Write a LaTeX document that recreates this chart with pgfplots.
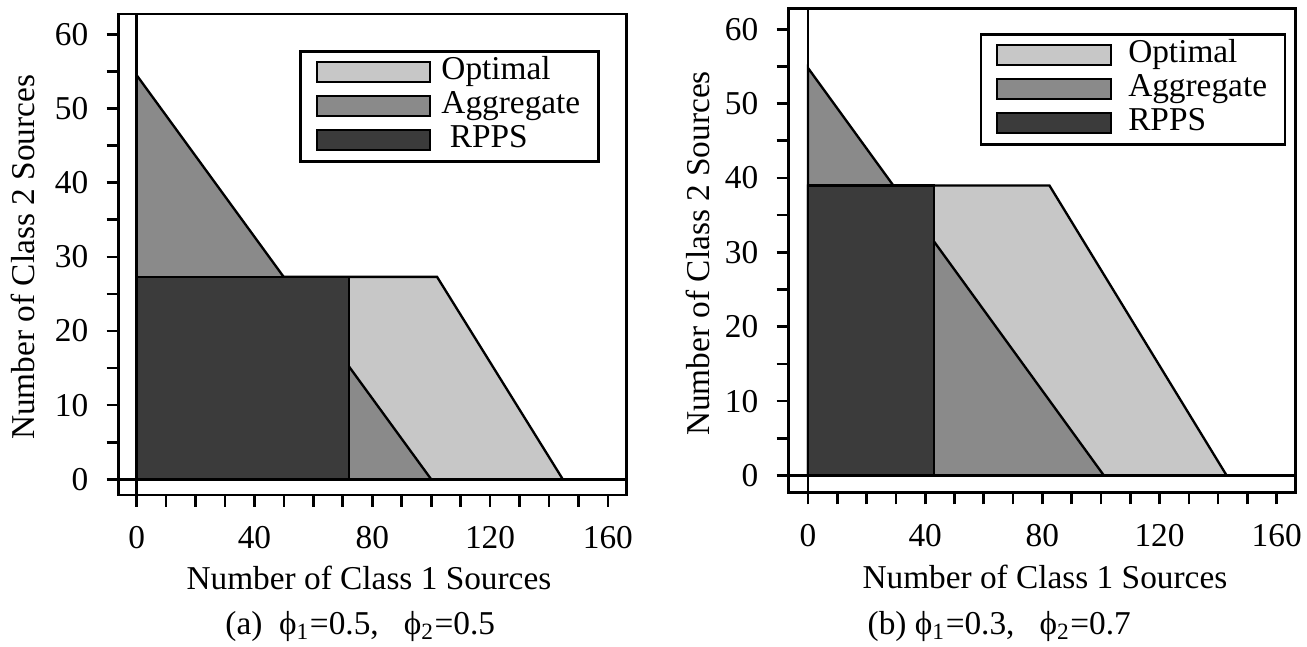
\documentclass[border=0pt]{standalone}
\usepackage{fontspec}
\setmainfont{Liberation Serif}
\usepackage{pgfplots}
\pgfplotsset{compat=1.18}
\definecolor{optc}{gray}{0.78}
\definecolor{aggc}{gray}{0.54}
\definecolor{rppc}{gray}{0.23}
\pgfplotsset{
  panel/.style={
    scale only axis,
    clip=false,
    no marks,
    axis line style={line width=0.8pt},
    tick style={line width=0.8pt, black},
    tick align=outside,
    tick pos=left,
    major tick length=3.5pt, minor tick length=3.5pt,
    xtick={0,40,...,160}, minor x tick num=3,
    ytick={0,10,...,60}, minor y tick num=1,
    /pgf/number format/assume math mode=true,
    tick label style={font=\fontsize{10}{12}\selectfont},
    label style={font=\fontsize{10}{12}\selectfont},
    xticklabel style={yshift=-2.5pt},
    yticklabel style={xshift=-2pt},
    xlabel={Number of Class 1 Sources},
    ylabel={Number of Class 2 Sources},
    legend style={draw=black, line width=0.8pt, anchor=north east,
      font=\fontsize{10}{12}\selectfont, inner xsep=4.6pt, inner ysep=1.2pt,
      row sep=0pt,
      nodes={inner sep=0.8pt, text height=6.4pt, text depth=2.2pt},
      cells={anchor=west}},
    legend image code/.code={\draw[#1, line width=0.6pt] (0pt,-3pt) rectangle (34pt,3pt);},
  }
}
\begin{document}
\begin{tikzpicture}
\useasboundingbox (0,0) rectangle (392.1pt,194.1pt);
% ---------- panel (a)
\begin{axis}[panel,
  at={(35.49pt,45.6pt)}, anchor=south west,
  width=152.52pt, height=144.3pt,
  xmin=-6.25, xmax=166.4, ymin=-2.12, ymax=62.76,
  xlabel style={at={(axis description cs:0.493,-0.1975)}, anchor=base},
  ylabel style={at={(axis description cs:-0.164,0.494)}, anchor=base},
  legend style={at={(axis cs:157.2,57.9)}, /tikz/every odd column/.append style={column sep=2.2pt}},
]
\addplot[fill=optc, draw=black, line width=0.7pt] coordinates {(0,0) (0,27.3) (102,27.3) (144.7,0)} -- cycle;
\addlegendentry{Optimal}
\addplot[fill=aggc, draw=black, line width=0.7pt] coordinates {(0,0) (0,54.5) (100,0)} -- cycle;
\addlegendentry{Aggregate}
\addplot[fill=rppc, draw=black, line width=0.7pt] coordinates {(0,0) (0,27.3) (72,27.3) (72,0)} -- cycle;
\addlegendentry{\hspace{2.5pt}RPPS}
\draw[line width=0.8pt] (axis cs:0,-2.12) -- (axis cs:0,62.76);
\draw[line width=0.8pt] (axis cs:-6.25,0) -- (axis cs:166.4,0);
\node[anchor=base, font=\fontsize{10}{12}\selectfont] at (axis description cs:0.476,-0.29)
  {(a)\ \ ϕ\textsubscript{1}=0.5,\ \ \ ϕ\textsubscript{2}=0.5};
\end{axis}
% ---------- panel (b)
\begin{axis}[panel,
  at={(236.49pt,46.26pt)}, anchor=south west,
  width=152.16pt, height=145.35pt,
  xmin=-6.72, xmax=166.4, ymin=-2.33, ymax=62.82,
  xlabel style={at={(axis description cs:0.506,-0.1986)}, anchor=base},
  ylabel style={at={(axis description cs:-0.156,0.494)}, anchor=base},
  legend style={at={(axis cs:163.3,59.5)}, /tikz/every odd column/.append style={column sep=4.2pt}},
]
\addplot[fill=optc, draw=black, line width=0.7pt] coordinates {(0,0) (0,39) (82.4,39) (142.9,0)} -- cycle;
\addlegendentry{Optimal}
\addplot[fill=aggc, draw=black, line width=0.7pt] coordinates {(0,0) (0,54.8) (101,0)} -- cycle;
\addlegendentry{Aggregate}
\addplot[fill=rppc, draw=black, line width=0.7pt] coordinates {(0,0) (0,39) (43,39) (43,0)} -- cycle;
\addlegendentry{RPPS}
\draw[line width=0.8pt] (axis cs:0,-2.33) -- (axis cs:0,62.82);
\draw[line width=0.8pt] (axis cs:-6.72,0) -- (axis cs:166.4,0);
\node[anchor=base, font=\fontsize{10}{12}\selectfont] at (axis description cs:0.416,-0.2935)
  {(b)\ ϕ\textsubscript{1}=0.3,\ \ \ ϕ\textsubscript{2}=0.7};
\end{axis}
\end{tikzpicture}
\end{document}
